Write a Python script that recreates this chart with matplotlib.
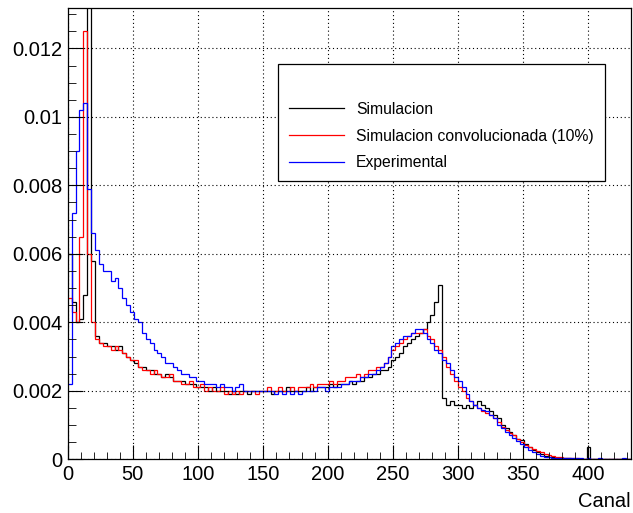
import numpy as np
import matplotlib
matplotlib.use("Agg")
import matplotlib.pyplot as plt
from matplotlib.ticker import MultipleLocator, FuncFormatter

plt.rcParams['font.family'] = ['Liberation Sans', 'DejaVu Sans']

# bines de 3 canales, de 0 a 435
ancho_bin = 3
bordes = np.arange(0, 435 + ancho_bin, ancho_bin)

# Simulacion (negro)
simulacion = [
    0.0060, 0.0046, 0.0040, 0.0041, 0.0048, 0.0160, 0.0058, 0.0036, 0.0034, 0.0034,
    0.0033, 0.0033, 0.0032, 0.0033, 0.0031, 0.0030, 0.0029, 0.0028, 0.0027, 0.0027,
    0.0026, 0.0026, 0.0025, 0.0025, 0.0024, 0.0025, 0.0024, 0.0023, 0.0023, 0.0023,
    0.0022, 0.0022, 0.0022, 0.0021, 0.0021, 0.0021, 0.0020, 0.0021, 0.0020, 0.0020,
    0.0020, 0.0019, 0.0020, 0.0019, 0.0020, 0.0020, 0.0019, 0.0020, 0.0020, 0.0020,
    0.0020, 0.0020, 0.0019, 0.0020, 0.0020, 0.0020, 0.0021, 0.0020, 0.0020, 0.0020,
    0.0020, 0.0021, 0.0020, 0.0021, 0.0021, 0.0021, 0.0021, 0.0022, 0.0021, 0.0022,
    0.0022, 0.0022, 0.0023, 0.0022, 0.0023, 0.0023, 0.0024, 0.0024, 0.0025, 0.0025,
    0.0026, 0.0026, 0.0027, 0.0029, 0.0030, 0.0031, 0.0033, 0.0034, 0.0035, 0.0036,
    0.0037, 0.0038, 0.0040, 0.0042, 0.0046, 0.0051, 0.0018, 0.0016, 0.0017, 0.0016,
    0.0016, 0.0015, 0.0016, 0.0015, 0.0016, 0.0017, 0.0016, 0.0015, 0.0014, 0.0013,
    0.0012, 0.0010, 0.0009, 0.0008, 0.0007, 0.0006, 0.00055, 0.00045, 0.00035, 0.00027,
    0.0002, 0.00015, 0.0001, 0.00008, 0.00006, 0.00005, 0.00004, 0.00003, 0.00003, 0.00002,
    0.00002, 0.00002, 0.00001, 0.00036, 0.00001, 0.00001, 0.00001, 0.00001, 0.0, 0.00001,
    0.00001, 0.0, 0.00001, 0.0, 0.0,
]

# Simulacion convolucionada 10% (rojo)
convolucionada = [
    0.0047, 0.0043, 0.0040, 0.0065, 0.0125, 0.0060, 0.0040, 0.0035, 0.0034, 0.0033,
    0.0033, 0.0032, 0.0033, 0.0032, 0.0031, 0.0030, 0.0029, 0.0029, 0.0027, 0.0026,
    0.0026, 0.0025, 0.0026, 0.0025, 0.0024, 0.0024, 0.0025, 0.0023, 0.0023, 0.0022,
    0.0022, 0.0023, 0.0021, 0.0021, 0.0022, 0.0020, 0.0021, 0.0020, 0.0020, 0.0021,
    0.0019, 0.0020, 0.0019, 0.0020, 0.0019, 0.0020, 0.0020, 0.0020, 0.0019, 0.0020,
    0.0020, 0.0021, 0.0020, 0.0020, 0.0021, 0.0020, 0.0020, 0.0021, 0.0020, 0.0021,
    0.0021, 0.0021, 0.0022, 0.0021, 0.0022, 0.0022, 0.0022, 0.0023, 0.0022, 0.0023,
    0.0023, 0.0024, 0.0024, 0.0024, 0.0025, 0.0024, 0.0025, 0.0026, 0.0026, 0.0027,
    0.0027, 0.0028, 0.0030, 0.0032, 0.0033, 0.0034, 0.0035, 0.0036, 0.0037, 0.0037,
    0.0037, 0.0038, 0.0036, 0.0035, 0.0033, 0.0032, 0.0030, 0.0027, 0.0025, 0.0023,
    0.0021, 0.0020, 0.0018, 0.0017, 0.0016, 0.0015, 0.0014, 0.00135, 0.0013, 0.0012,
    0.0011, 0.00095, 0.00085, 0.00078, 0.0007, 0.0006, 0.0005, 0.00042, 0.00035, 0.0003,
    0.00025, 0.0002, 0.00016, 0.00012, 0.0001, 0.00008, 0.00006, 0.00005, 0.00004, 0.00003,
    0.00003, 0.00002, 0.00002, 0.00002, 0.00002, 0.00001, 0.00001, 0.00001, 0.00001, 0.00001,
    0.00001, 0.00001, 0.0, 0.00001, 0.0,
]

# Experimental (azul)
experimental = [
    0.0022, 0.0072, 0.0090, 0.0102, 0.0104, 0.0079, 0.0066, 0.0061, 0.0057, 0.0055,
    0.0055, 0.0052, 0.0053, 0.0050, 0.0047, 0.0045, 0.0043, 0.0041, 0.0040, 0.0037,
    0.0035, 0.0034, 0.0032, 0.0031, 0.0030, 0.0028, 0.0028, 0.0027, 0.0026, 0.0025,
    0.0025, 0.0024, 0.0024, 0.0023, 0.0023, 0.0022, 0.0022, 0.0022, 0.0021, 0.0022,
    0.0021, 0.0021, 0.0020, 0.0021, 0.0022, 0.0020, 0.0020, 0.0020, 0.0020, 0.0020,
    0.0020, 0.0020, 0.0020, 0.0019, 0.0020, 0.0019, 0.0020, 0.0019, 0.0020, 0.0019,
    0.0020, 0.0020, 0.0020, 0.0020, 0.0021, 0.0021, 0.0020, 0.0021, 0.0021, 0.0021,
    0.0022, 0.0022, 0.0023, 0.0023, 0.0023, 0.0024, 0.0024, 0.0025, 0.0025, 0.0026,
    0.0027, 0.0028, 0.0030, 0.0033, 0.0034, 0.0035, 0.0036, 0.0036, 0.0037, 0.0038,
    0.0038, 0.0037, 0.0035, 0.0034, 0.0032, 0.0031, 0.0029, 0.0028, 0.0026, 0.0024,
    0.0023, 0.0021, 0.0019, 0.0017, 0.0016, 0.0015, 0.00145, 0.0014, 0.0013, 0.0012,
    0.0010, 0.0009, 0.0008, 0.0007, 0.00062, 0.00053, 0.00045, 0.00035, 0.00028, 0.00022,
    0.00015, 0.0001, 0.00008, 0.00006, 0.00005, 0.00004, 0.00004, 0.00003, 0.00003, 0.00003,
    0.00003, 0.00003, 0.00002, 0.00003, 0.00002, 0.00002, 0.00003, 0.00002, 0.00002, 0.00002,
    0.00002, 0.00002, 0.00003, 0.00002, 0.00002,
]

fig = plt.figure(figsize=(6.33, 5.13), dpi=100)
ax = fig.add_axes([0.107, 0.1047, 0.8894, 0.879])

ax.stairs(simulacion, bordes, color='black', lw=0.9, baseline=None, label='Simulacion')
ax.stairs(convolucionada, bordes, color='#ff0000', lw=0.9, baseline=None,
          label='Simulacion convolucionada (10%)')
ax.stairs(experimental, bordes, color='#0000ff', lw=0.9, baseline=None, label='Experimental')

ax.set_xlim(0, 433)
ax.set_ylim(0, 0.01317)

ax.xaxis.set_major_locator(MultipleLocator(50))
ax.xaxis.set_minor_locator(MultipleLocator(10))
ax.yaxis.set_major_locator(MultipleLocator(0.002))
ax.yaxis.set_minor_locator(MultipleLocator(0.0005))
ax.yaxis.set_major_formatter(FuncFormatter(lambda v, p: '%g' % round(v, 6)))

ax.tick_params(which='both', direction='in', top=False, right=False, labelsize=14.5)
ax.tick_params(axis='x', which='major', length=10, pad=4)
ax.tick_params(axis='x', which='minor', length=5)
ax.tick_params(axis='y', which='major', length=11, pad=4)
ax.tick_params(axis='y', which='minor', length=6)

ax.grid(True, which='major', color='black', linestyle=(0, (1, 2.5)), linewidth=0.8)
for s in ax.spines.values():
    s.set_linewidth(0.9)

ax.set_xlabel('Canal', loc='right', fontsize=14.5, labelpad=6)

leg = ax.legend(loc='upper left', bbox_to_anchor=(0.4397, 0.8752),
                bbox_transform=fig.transFigure, fontsize=11.3, title=' ',
                title_fontsize=12, frameon=True, fancybox=False,
                edgecolor='black', framealpha=1, borderaxespad=0,
                handlelength=3.5, handletextpad=0.75, borderpad=0.7,
                labelspacing=0.75)
leg.get_frame().set_linewidth(0.9)

fig.savefig('out.png', dpi=100)
